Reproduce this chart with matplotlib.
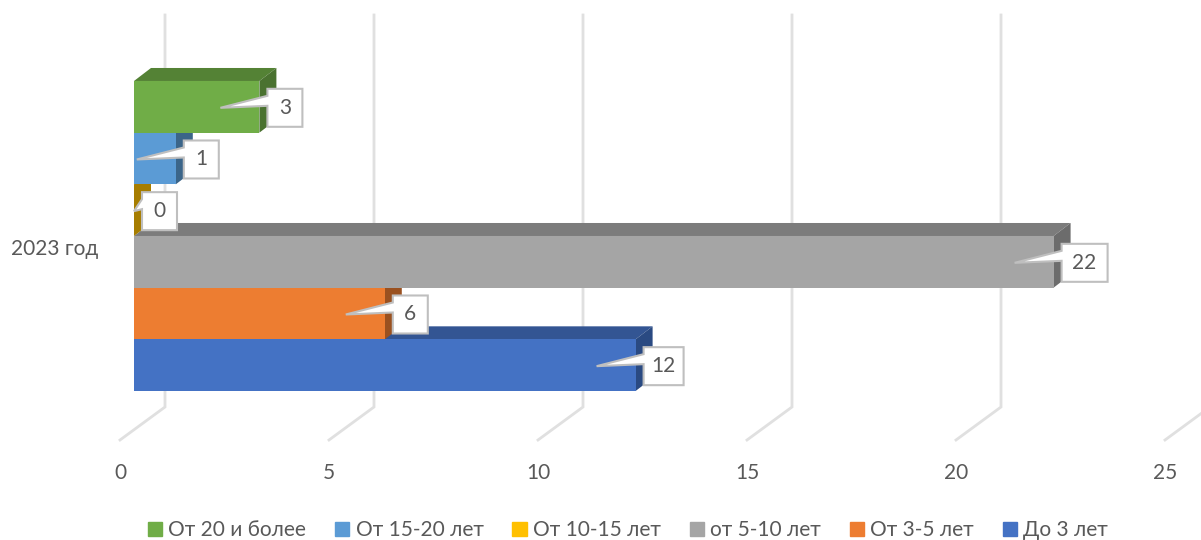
import matplotlib.pyplot as plt
from matplotlib.patches import Polygon, Patch

plt.rcParams['font.family'] = ['Lato', 'Open Sans', 'DejaVu Sans']

category = "2023 год"
series_names = ["До 3 лет", "От 3-5 лет", "от 5-10 лет", "От 10-15 лет", "От 15-20 лет", "От 20 и более"]
series_values = [12, 6, 22, 0, 1, 3]
value_ticks = [0, 5, 10, 15, 20, 25]

front_colors = ["#4472C4", "#ED7D31", "#A5A5A5", "#FFC000", "#5B9BD5", "#70AD47"]
top_colors = ["#335593", "#B15D24", "#7C7C7C", "#BF9000", "#44749F", "#548235"]
side_colors = ["#2A4A82", "#9A5120", "#6C6C6C", "#A67D00", "#3B6589", "#4A7230"]
box_widths = [40, 35, 46, 35, 35, 35]

# pixels per data unit, the axes fill the whole figure
PX_X = 41.8
PX_Y = 51.67
X0 = 134
Y0 = 391
W, H = 1201, 540
# 3d look of the bars
DEPTH_X = 17 / PX_X
DEPTH_Y = 13 / PX_Y
TEXT = "#595959"
GRID = "#E0E0E0"


def dx(px):
    return px / PX_X


def dy(px):
    return px / PX_Y


fig = plt.figure(figsize=(W / 100, H / 100), dpi=100)
ax = fig.add_axes([0, 0, 1, 1])
ax.set_xlim(-X0 / PX_X, (W - X0) / PX_X)
ax.set_ylim(-(H - Y0) / PX_Y, Y0 / PX_Y)
ax.axis('off')

# walls: gridline on the back wall and its piece on the floor
wall_bottom = dy(Y0 - 407)
wall_top = dy(Y0 - 15)
for v in value_ticks:
    ax.plot([v + dx(31), v + dx(31), v - dx(14)],
            [wall_top, wall_bottom, wall_bottom - dy(33)],
            color=GRID, lw=2, zorder=1, solid_joinstyle='miter')
    ax.text(v - dx(14), dy(Y0 - 473), str(v), ha='center', va='center',
            fontsize=15, color=TEXT)

ax.text(dx(11 - X0), dy(Y0 - 249), category, ha='left', va='center', fontsize=15, color=TEXT)

# lowest bar first, each next one overlaps the top face of the previous
for i, v in enumerate(series_values):
    ax.add_patch(Polygon([(0, i + 1), (v, i + 1), (v + DEPTH_X, i + 1 + DEPTH_Y), (DEPTH_X, i + 1 + DEPTH_Y)],
                         fc=top_colors[i], ec='none', zorder=2 + i))
    ax.add_patch(Polygon([(v, i), (v + DEPTH_X, i + DEPTH_Y), (v + DEPTH_X, i + 1 + DEPTH_Y), (v, i + 1)],
                         fc=side_colors[i], ec='none', zorder=2 + i))
    ax.barh(i + 0.5, v, height=1, color=front_colors[i], zorder=2 + i)

# callout labels
for i, v in enumerate(series_values):
    left = v + dx(8)
    right = left + dx(box_widths[i])
    mid = i + 0.5 - dy(1)
    tip = max(v - dx(39), 0)
    outline = [(left, mid + dy(19)), (right, mid + dy(19)), (right, mid - dy(19)), (left, mid - dy(19)),
               (left, mid + dy(2)), (tip, mid), (left, mid + dy(12))]
    ax.add_patch(Polygon(outline, fc='white', ec='#BFBFBF', lw=1.5, zorder=20))
    ax.text((left + right) / 2, mid, str(v), ha='center', va='center', fontsize=15, color=TEXT, zorder=21)

handles = [Patch(color=c, label=n) for c, n in zip(front_colors[::-1], series_names[::-1])]
ax.legend(handles=handles, ncol=6, loc='center', bbox_to_anchor=(628 / W, 1 - 530 / H),
          frameon=False, fontsize=15, labelcolor=TEXT, handlelength=0.68, handleheight=0.68,
          handletextpad=0.3, columnspacing=1.39, borderpad=0, borderaxespad=0)

fig.savefig("out.png", dpi=100)
